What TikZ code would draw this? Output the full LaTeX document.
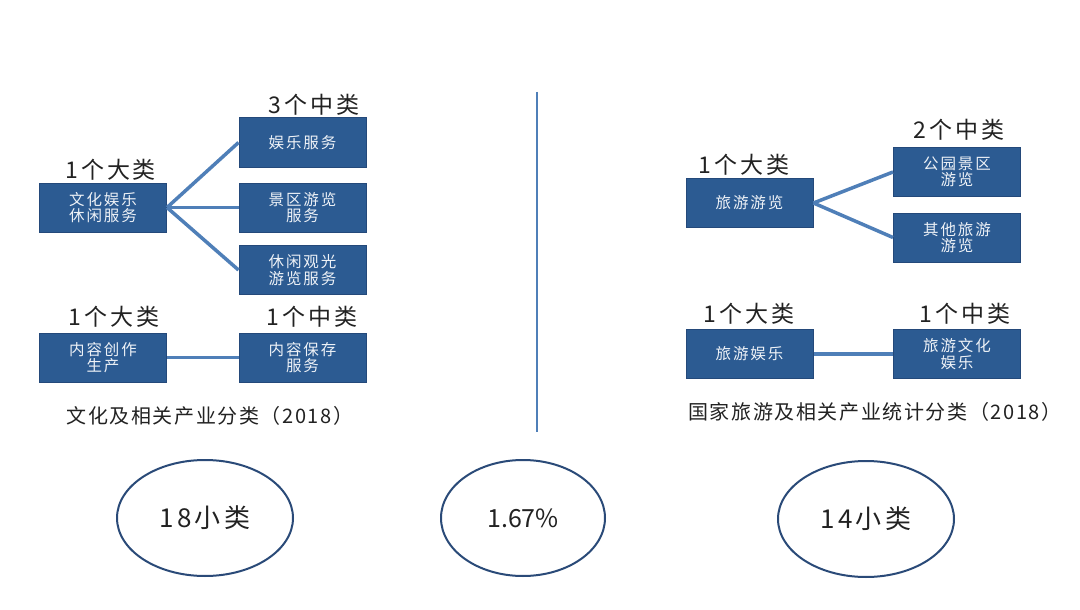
\documentclass[tikz,border=0pt]{standalone}
\usepackage{fontspec}
\newfontfamily\cjk{Noto Sans CJK SC}
\newfontfamily\cjkbox[LetterSpace=12]{Noto Sans CJK SC}
\newfontfamily\cjklbl[LetterSpace=12]{Noto Sans CJK SC}
\newfontfamily\cjkcap[LetterSpace=8]{Noto Sans CJK SC}
\newfontfamily\cjkring[LetterSpace=12]{Noto Sans CJK SC}
\usetikzlibrary{shapes.geometric}
\definecolor{boxfill}{HTML}{2C5B92}
\definecolor{boxline}{HTML}{24497A}
\definecolor{linkc}{HTML}{4F7FB8}
\definecolor{ringc}{HTML}{2A4A78}
\definecolor{txtc}{HTML}{222222}
\definecolor{boxtxt}{HTML}{EEF2F7}
\tikzset{
  catbox/.style={draw=boxline, fill=boxfill, line width=1pt, minimum width=127pt, minimum height=49pt,
    inner sep=0pt, text=boxtxt, align=center, font=\cjkbox\fontsize{15.5}{16.5}\selectfont},
  countlbl/.style={text=txtc, font=\cjklbl\fontsize{23}{25}\selectfont, inner sep=0pt},
  caption/.style={text=txtc, font=\cjkcap\fontsize{20}{22}\selectfont, inner sep=0pt},
  link/.style={draw=linkc, line width=3.5pt},
  ring/.style={draw=ringc, line width=2pt, ellipse, minimum width=176pt, minimum height=116pt,
    text=txtc, font=\cjkring\fontsize{26}{28}\selectfont}
}
\begin{document}
\begin{tikzpicture}[x=1pt,y=-1pt]
\useasboundingbox[fill=white] (0,0) rectangle (1080,610);
% divider
\coordinate (dtop) at (537,92);
\coordinate (dbot) at (537,432);
\draw[draw=linkc, line width=2.5pt] (dtop) -- (dbot);

% left upper group
\node[catbox] (L1) at (103,207.5) {文化娱乐\\休闲服务};
\node[catbox] (M1) at (302.5,142.5) {娱乐服务};
\node[catbox] (M2) at (302.5,207.5) {景区游览\\服务};
\node[catbox] (M3) at (302.5,270) {休闲观光\\游览服务};
\node[countlbl] (lbl1) at (111,170) {1个大类};
\node[countlbl] (lbl2) at (314,105) {3个中类};
\draw[link] (L1.east) -- (M1.west);
\draw[link] (L1.east) -- (M2.west);
\draw[link] (L1.east) -- (M3.west);

% left lower group
\node[catbox] (L2) at (103,357.5) {内容创作\\生产};
\node[catbox] (M4) at (302.5,357.5) {内容保存\\服务};
\node[countlbl] (lbl3) at (114,317) {1个大类};
\node[countlbl] (lbl4) at (312,317) {1个中类};
\draw[link] (L2.east) -- (M4.west);
\node[caption] (cap1) at (210,416) {文化及相关产业分类（2018）};

% right upper group
\node[catbox] (R1) at (749.5,203) {旅游游览};
\node[catbox] (N1) at (957,172) {公园景区\\游览};
\node[catbox] (N2) at (957,237.5) {其他旅游\\游览};
\node[countlbl] (lbl5) at (744,165) {1个大类};
\node[countlbl] (lbl6) at (959,130) {2个中类};
\draw[link] (R1.east) -- (N1.west);
\draw[link] (R1.east) -- (N2.west);

% right lower group
\node[catbox] (R2) at (749.5,354) {旅游娱乐};
\node[catbox] (N3) at (957,354) {旅游文化\\娱乐};
\node[countlbl] (lbl7) at (749,314) {1个大类};
\node[countlbl] (lbl8) at (965,314) {1个中类};
\draw[link] (R2.east) -- (N3.west);
\node[caption] (cap2) at (875,412) {国家旅游及相关产业统计分类（2018）};

% bottom ellipses
\node[ring] (E1) at (205,518) {18小类};
\node[ring, minimum width=164pt, font=\cjk\fontsize{25}{27}\selectfont] (E2) at (523,518) {1.67\%};
\node[ring] (E3) at (866,519) {14小类};
\end{tikzpicture}
\end{document}
